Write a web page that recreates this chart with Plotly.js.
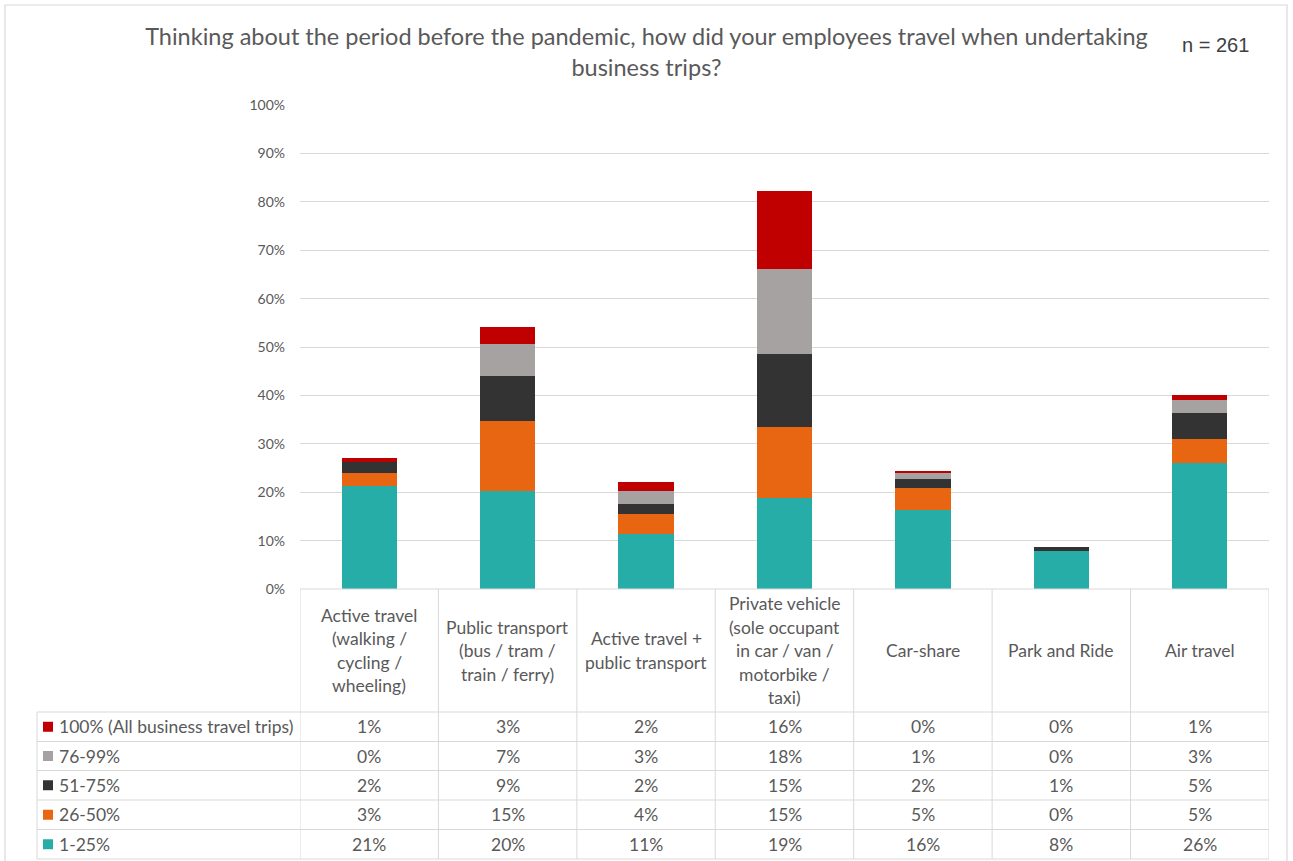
<!DOCTYPE html>
<html><head><meta charset="utf-8">
<script src="https://cdn.plot.ly/plotly-3.0.1.min.js"></script>
<style>html,body{margin:0;padding:0;background:#fff}#chart{width:1293px;height:861px}</style>
</head><body><div id="chart"></div>
<script>
// ---------- data ----------
const categories = ['Active travel (walking / cycling / wheeling)', 'Public transport (bus / tram / train / ferry)', 'Active travel + public transport', 'Private vehicle (sole occupant in car / van / motorbike / taxi)', 'Car-share', 'Park and Ride', 'Air travel'];
const headerLabels = ['Active travel<br>(walking /<br>cycling /<br>wheeling)', 'Public transport<br>(bus / tram /<br>train / ferry)', 'Active travel +<br>public transport', 'Private vehicle<br>(sole occupant<br>in car / van /<br>motorbike /<br>taxi)', 'Car-share', 'Park and Ride', 'Air travel'];
const seriesNames = ['1-25%', '26-50%', '51-75%', '76-99%', '100% (All business travel trips)'];
const s1_25  = [21.3, 20.2, 11.4, 18.9, 16.3, 7.9, 26.0];
const s26_50 = [2.7, 14.6, 4.1, 14.6, 4.6, 0.0, 4.9];
const s51_75 = [2.3, 9.3, 2.0, 15.0, 1.8, 0.8, 5.4];
const s76_99 = [0.0, 6.6, 2.7, 17.6, 1.3, 0.0, 2.7];
const s100   = [0.7, 3.4, 1.9, 16.2, 0.4, 0.0, 1.1];
const yTicks = [0, 10, 20, 30, 40, 50, 60, 70, 80, 90, 100];
const titleText = 'Thinking about the period before the pandemic, how did your employees travel when undertaking<br>business trips?';
const sampleText = 'n = 261';

// ---------- styling ----------
const seriesValues = [s1_25, s26_50, s51_75, s76_99, s100];
const seriesColors = ['#27ADA7', '#E86511', '#333333', '#A5A2A1', '#C00000'];
const FONT = 'Lato, Carlito, "Open Sans", sans-serif';
const TXT = '#595959';
const GRID = '#D9D9D9';
const TABLE_FS = 17.5;

const W = 1293, H = 861, L = 300, R = 1269, T = 105, B = 589;
const px2x = p => (p - L) / (R - L);
const py = p => (B - p) / (B - T);

const traces = seriesValues.map((vals, i) => ({
  type: 'bar',
  name: seriesNames[i],
  x: categories,
  y: vals.map(v => v / 100),
  marker: {color: seriesColors[i], line: {width: 0}},
  hoverinfo: 'name+y'
}));

const shapes = [];
const annotations = [];
const line = (xref, x0, x1, y0, y1) => shapes.push({type: 'line', xref: xref, yref: 'paper', x0, x1, y0, y1, line: {color: GRID, width: 1}});

// outer border
shapes.push({type: 'rect', xref: 'paper', yref: 'paper', x0: px2x(5), x1: px2x(1287), y0: py(5), y1: py(880), line: {color: GRID, width: 1.2}, fillcolor: 'rgba(0,0,0,0)', layer: 'below'});
// category axis line
line('paper', 0, 1, 0, 0);
// column dividers
for (let i = 0; i <= categories.length; i++) line('x', i - 0.5, i - 0.5, 0, py(859));
// legend column left edge
const rowEdges = [712, 741.5, 770.5, 800, 829.5, 859];
line('paper', px2x(37), px2x(37), py(rowEdges[0]), py(rowEdges[rowEdges.length - 1]));
rowEdges.forEach(r => line('paper', px2x(37), 1, py(r), py(r)));

// header labels (one annotation per line for Excel-like spacing)
const headerCenter = 650.5, lineGap = 23.5;
headerLabels.forEach((lab, ci) => {
  const lines = lab.split('<br>');
  lines.forEach((t, k) => {
    annotations.push({xref: 'x', yref: 'paper', x: categories[ci], y: py(headerCenter + (k - (lines.length - 1) / 2) * lineGap),
      text: t, showarrow: false, xanchor: 'center', yanchor: 'middle', font: {family: FONT, size: TABLE_FS, color: TXT}});
  });
});

// table rows: top row = last series
const rowOrder = [4, 3, 2, 1, 0];
rowOrder.forEach((si, ri) => {
  const cy = (rowEdges[ri] + rowEdges[ri + 1]) / 2;
  shapes.push({type: 'rect', xref: 'paper', yref: 'paper', x0: px2x(43), x1: px2x(53), y0: py(cy + 5), y1: py(cy - 5), fillcolor: seriesColors[si], line: {width: 0}});
  annotations.push({xref: 'paper', yref: 'paper', x: px2x(57), y: py(cy), text: seriesNames[si], showarrow: false, xanchor: 'left', yanchor: 'middle', font: {family: FONT, size: TABLE_FS, color: TXT}});
  seriesValues[si].forEach((v, ci) => {
    annotations.push({xref: 'x', yref: 'paper', x: categories[ci], y: py(cy), text: Math.round(v) + '%', showarrow: false, xanchor: 'center', yanchor: 'middle', font: {family: FONT, size: TABLE_FS, color: TXT}});
  });
});

// sample size
annotations.push({xref: 'paper', yref: 'paper', x: px2x(1215), y: py(45), text: sampleText, showarrow: false, xanchor: 'center', yanchor: 'middle', font: {family: '"Liberation Sans", Arial, sans-serif', size: 20, color: '#404040'}});

const layout = {
  width: W, height: H,
  margin: {l: L, r: W - R, t: T, b: H - B, pad: 0},
  paper_bgcolor: '#FFFFFF', plot_bgcolor: '#FFFFFF',
  barmode: 'stack', bargap: 0.6,
  showlegend: false,
  title: {text: titleText, x: 0.5, xref: 'container', xanchor: 'center', y: 1 - 45 / H, yref: 'container', yanchor: 'middle', font: {family: FONT, size: 23.5, color: TXT}},
  xaxis: {type: 'category', range: [-0.5, categories.length - 0.5], showticklabels: false, showgrid: false, zeroline: false, showline: false, ticks: '', fixedrange: true},
  yaxis: {range: [0, 1], tickvals: yTicks.map(v => v / 100), ticktext: yTicks.map(v => v + '%'), showgrid: true, gridcolor: GRID, gridwidth: 1, zeroline: false, showline: false, ticks: '', ticklabelstandoff: 14, tickfont: {family: FONT, size: 14, color: TXT}, fixedrange: true},
  shapes: shapes,
  annotations: annotations,
  font: {family: FONT, color: TXT}
};

Plotly.newPlot('chart', traces, layout, {displayModeBar: false, staticPlot: true});
</script>
</body></html>
